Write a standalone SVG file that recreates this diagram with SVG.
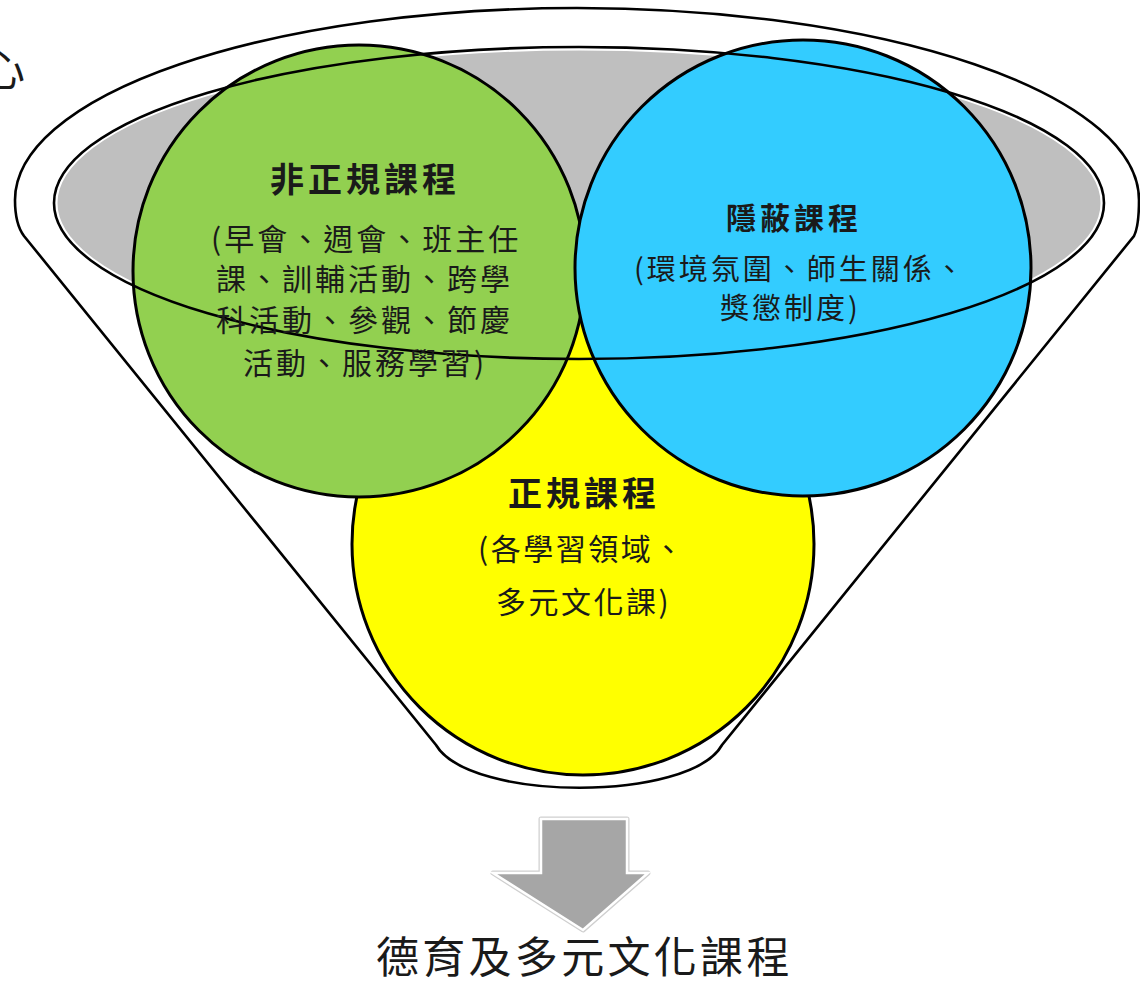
<svg xmlns="http://www.w3.org/2000/svg" width="1140" height="985" viewBox="0 0 1140 985">
<style>
.ol{fill:none;stroke:#000;stroke-width:2.6}
.circ{stroke:#000;stroke-width:3}
.t{font-family:"Noto Sans CJK TC","Noto Sans CJK SC",sans-serif;fill:#1a1a1a}
.ttl{font-weight:bold;font-size:34px;letter-spacing:4px}
.sub{font-size:30px;letter-spacing:3px}
</style>
<rect width="1140" height="985" fill="#fff"/>
<text class="t" x="-19" y="86" font-size="44" fill="#000">心</text>
<g id="funnel-back">
<path d="M15,200 A562,192 0 0 1 1139,200 C1139,215 1138,228 1134,236 L722,745 C690,802 470,802 436,745 L24,236 C18,228 15,215 15,200 Z" fill="#fff"/>
<ellipse cx="579" cy="203" rx="523" ry="154" fill="#bfbfbf" stroke="#fff" stroke-width="3"/>
</g>
<g id="node-formal">
<circle class="circ" cx="583" cy="544" r="231" fill="#ffff00"/>
<text class="t ttl" x="508" y="506">正規課程</text>
<text class="t sub" x="478" y="560" style="letter-spacing:2.5px">(各學習領域、</text>
<text class="t sub" x="496" y="613" style="letter-spacing:2.5px">多元文化課)</text>
</g>
<g id="node-nonformal">
<circle class="circ" cx="359" cy="271" r="226" fill="#92d050"/>
</g>
<g id="node-hidden">
<circle class="circ" cx="803" cy="268" r="228" fill="#33ccff"/>
</g>
<g id="funnel-outline">
<path class="ol" d="M15,200 A562,192 0 0 1 1139,200 C1139,215 1138,228 1134,236 L722,745 C690,802 470,802 436,745 L24,236 C18,228 15,215 15,200 Z"/>
<ellipse class="ol" cx="579" cy="203" rx="525" ry="156"/>
</g>
<g id="labels">
<text class="t ttl" x="270" y="192">非正規課程</text>
<text class="t sub" x="211" y="250">(早會、週會、班主任</text>
<text class="t sub" x="216" y="290">課、訓輔活動、跨學</text>
<text class="t sub" x="216" y="331">科活動、參觀、節慶</text>
<text class="t sub" x="243" y="374">活動、服務學習)</text>
<text class="t ttl" x="726" y="229" style="font-size:30px">隱蔽課程</text>
<text class="t sub" x="634" y="280" style="font-size:29px">(環境氛圍、師生關係、</text>
<text class="t sub" x="720" y="319" style="font-size:29px">獎懲制度)</text>
</g>
<g id="connectors">
<polygon points="541,819 627,819 627,873 648,873 583,930 493,873 541,873" fill="none" stroke="#cfcfcf" stroke-width="5" stroke-linejoin="round"/>
<polygon points="541,819 627,819 627,873 648,873 583,930 493,873 541,873" fill="#a6a6a6" stroke="#fff" stroke-width="2.5"/>
</g>
<g id="node-result">
<text class="t" x="376" y="973" font-size="43" style="letter-spacing:3.3px" fill="#111">德育及多元文化課程</text>
</g>
</svg>
